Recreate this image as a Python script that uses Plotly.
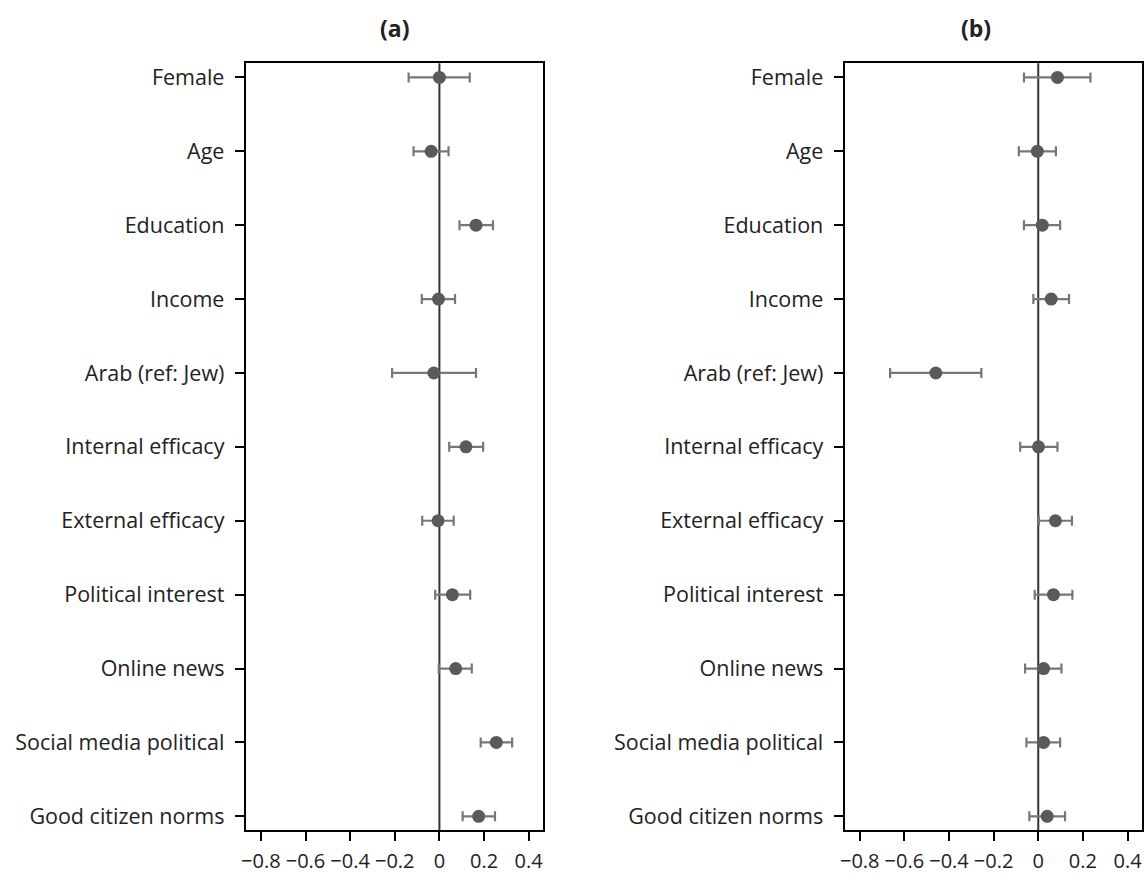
import plotly.graph_objects as go

categories = ["Female", "Age", "Education", "Income", "Arab (ref: Jew)",
              "Internal efficacy", "External efficacy", "Political interest",
              "Online news", "Social media political", "Good citizen norms"]

a_est = [0.000, -0.037, 0.164, -0.004, -0.025, 0.119, -0.006, 0.058, 0.073, 0.255, 0.176]
a_lo = [-0.138, -0.116, 0.090, -0.079, -0.212, 0.044, -0.077, -0.019, -0.003, 0.185, 0.104]
a_hi = [0.136, 0.041, 0.240, 0.070, 0.164, 0.196, 0.064, 0.138, 0.145, 0.326, 0.249]

b_est = [0.086, -0.004, 0.018, 0.058, -0.459, 0.001, 0.077, 0.068, 0.024, 0.024, 0.040]
b_lo = [-0.064, -0.087, -0.064, -0.022, -0.664, -0.081, 0.003, -0.016, -0.059, -0.053, -0.040]
b_hi = [0.234, 0.079, 0.098, 0.138, -0.255, 0.086, 0.151, 0.153, 0.104, 0.098, 0.120]

x_ticks = [-0.8, -0.6, -0.4, -0.2, 0, 0.2, 0.4]
panel_titles = ["(a)", "(b)"]

FONT = "Open Sans"
W, H = 1144, 874
ypos = list(range(len(categories)))

fig = go.Figure()
for i, (est, lo, hi) in enumerate([(a_est, a_lo, a_hi), (b_est, b_lo, b_hi)]):
    xa = "x" if i == 0 else "x2"
    ya = "y" if i == 0 else "y2"
    fig.add_trace(go.Scatter(
        x=est, y=ypos, mode="markers", xaxis=xa, yaxis=ya,
        marker=dict(color="#5a5a5a", size=13),
        error_x=dict(type="data", symmetric=False,
                     array=[h - e for h, e in zip(hi, est)],
                     arrayminus=[e - l for e, l in zip(est, lo)],
                     color="#777777", thickness=2.2, width=5),
        showlegend=False, cliponaxis=False, hoverinfo="skip"))

doms_x = [[242 / W, 541 / W], [844 / W, 1143 / W]]
ydom = [1 - 838 / H, 1 - 63 / H]
axis_common = dict(showline=True, linecolor="black", linewidth=2, mirror=True,
                   ticks="outside", ticklen=9, tickwidth=1.5, tickcolor="black",
                   showgrid=False, zeroline=False)
for i in range(2):
    sfx = "" if i == 0 else "2"
    fig.layout["xaxis" + sfx] = dict(domain=doms_x[i], range=[-0.868, 0.465],
                                     tickvals=x_ticks, anchor="y" + sfx,
                                     ticklabelstandoff=3,
                                     tickfont=dict(family=FONT, size=20, color="#222222"),
                                     **axis_common)
    fig.layout["yaxis" + sfx] = dict(domain=ydom, range=[10.19, -0.19],
                                     tickvals=ypos, ticktext=categories,
                                     anchor="x" + sfx, ticklabelstandoff=6,
                                     tickfont=dict(family=FONT, size=21.5, color="#222222"),
                                     **axis_common)
    fig.add_shape(type="line", xref="x" + sfx, yref="y" + sfx + " domain",
                  x0=0, x1=0, y0=0, y1=1, line=dict(color="#333333", width=2),
                  layer="below")
    fig.add_annotation(text="<b>" + panel_titles[i] + "</b>", xref="paper", yref="paper",
                       x=sum(doms_x[i]) / 2, y=1 - 27 / H,
                       yanchor="middle", showarrow=False,
                       font=dict(family=FONT, size=23, color="#222222"))

fig.update_layout(width=W, height=H, margin=dict(l=0, r=0, t=0, b=0),
                  plot_bgcolor="white", paper_bgcolor="white", hovermode=False)
fig.write_html("out.html", config={"displayModeBar": False},
               post_script="document.body.style.margin='0';document.body.style.overflow='hidden';")
